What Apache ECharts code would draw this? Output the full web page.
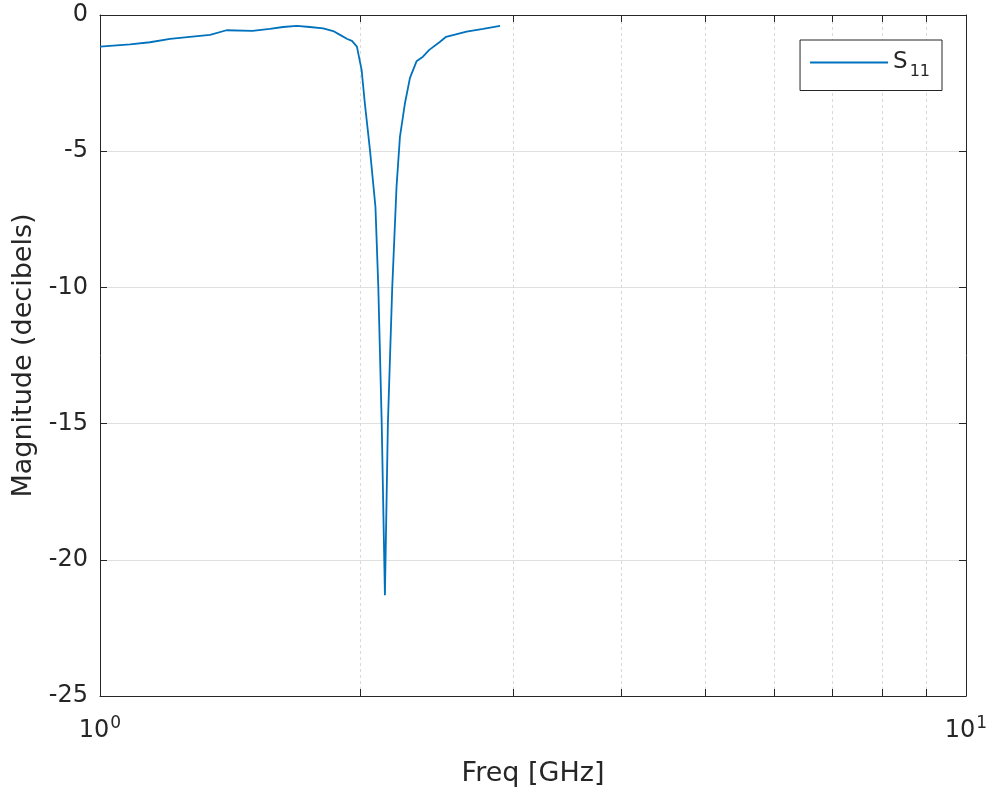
<!DOCTYPE html>
<html><head><meta charset="utf-8">
<script src="https://cdn.jsdelivr.net/npm/echarts@6/dist/echarts.min.js"></script>
<style>html,body{margin:0;padding:0;background:#fff}#c{width:991px;height:794px}</style>
</head><body><div id="c"></div>
<script>
// Data (frequency in GHz, magnitude in dB)
const freqGHz = [1.000,1.083,1.142,1.205,1.270,1.340,1.400,1.500,1.571,1.627,1.687,1.747,1.810,1.859,1.893,1.930,1.954,1.980,1.996,2.005,2.022,2.050,2.080,2.096,2.115,2.133,2.150,2.175,2.200,2.220,2.250,2.280,2.320,2.360,2.400,2.470,2.510,2.650,2.770,2.897];
const s11dB   = [-1.16,-1.08,-1.00,-0.88,-0.80,-0.73,-0.56,-0.58,-0.51,-0.44,-0.40,-0.44,-0.49,-0.59,-0.73,-0.88,-0.95,-1.16,-1.71,-2.02,-3.23,-4.96,-7.04,-10.0,-15.0,-21.3,-15.0,-10.0,-6.30,-4.47,-3.23,-2.31,-1.70,-1.53,-1.28,-0.98,-0.80,-0.61,-0.51,-0.40];
const xTickValues = [1,2,3,4,5,6,7,8,9,10];
const xLabelValues = [1,10];
const yTicks = [-25,-20,-15,-10,-5,0];
const seriesName = 'S11';

const axisColor = '#262626';
const font = 'DejaVu Sans, Liberation Sans, Arial, sans-serif';
const chart = echarts.init(document.getElementById('c'));
const xCommon = {
  type: 'log', logBase: 10, min: 1, max: 10,
  axisLine: {show: true, onZero: false, lineStyle: {color: axisColor, width: 1}},
  axisTick: {show: true, inside: true, length: 7, customValues: xTickValues, lineStyle: {color: axisColor}},
};
chart.setOption({
  animation: false,
  grid: {left: 100, right: 25, top: 15, bottom: 98, containLabel: false},
  legend: {
    right: 49, top: 40, orient: 'vertical',
    borderColor: axisColor, borderWidth: 1, backgroundColor: '#fff',
    padding: [11, 12, 11, 10], itemWidth: 78, itemHeight: 2, itemGap: 0,
    icon: 'rect',
    data: [seriesName],
    formatter: () => '{s|S}{sub|11}',
    textStyle: {rich: {
      s: {fontFamily: font, fontSize: 23, color: axisColor},
      sub: {fontFamily: font, fontSize: 16, color: axisColor, padding: [18, 0, 0, 2]}
    }}
  },
  xAxis: [
    Object.assign({}, xCommon, {
      position: 'bottom',
      name: 'Freq [GHz]', nameLocation: 'middle', nameGap: 64,
      nameTextStyle: {fontFamily: font, fontSize: 27, color: axisColor},
      axisLabel: {
        show: true, customValues: xLabelValues, margin: 19,
        formatter: v => '{b|10}{p|' + Math.round(Math.log10(v)) + '}',
        rich: {
          b: {fontFamily: font, fontSize: 24, color: axisColor},
          p: {fontFamily: font, fontSize: 17, color: axisColor, padding: [0, 0, 15, 1]}
        }
      },
      splitLine: {show: true, lineStyle: {color: '#d9d9d9', type: [3, 3], width: 1}}
    }),
    Object.assign({}, xCommon, {
      position: 'top', axisLabel: {show: false}, splitLine: {show: false}
    })
  ],
  yAxis: [
    {
      type: 'value', min: -25, max: 0, interval: 5, position: 'left',
      name: 'Magnitude (decibels)', nameLocation: 'middle', nameGap: 58,
      nameTextStyle: {fontFamily: font, fontSize: 27, color: axisColor},
      axisLine: {show: true, lineStyle: {color: axisColor}},
      axisTick: {show: true, inside: true, length: 7, lineStyle: {color: axisColor}},
      axisLabel: {fontFamily: font, fontSize: 24, color: axisColor, margin: 12,
        padding: [10, 0, 0, 0],
        customValues: yTicks, formatter: v => String(v)},
      splitLine: {show: true, lineStyle: {color: '#e0e0e0', width: 1}}
    },
    {
      type: 'value', min: -25, max: 0, interval: 5, position: 'right',
      axisLine: {show: true, lineStyle: {color: axisColor}},
      axisTick: {show: true, inside: true, length: 7, lineStyle: {color: axisColor}},
      axisLabel: {show: false}, splitLine: {show: false}
    }
  ],
  series: [{
    name: seriesName, type: 'line', xAxisIndex: 0, yAxisIndex: 0,
    data: freqGHz.map((f, i) => [f, s11dB[i]]),
    symbol: 'none', smooth: false,
    lineStyle: {color: '#0072BD', width: 1.8},
    itemStyle: {color: '#0072BD'}
  }]
});
</script></body></html>
